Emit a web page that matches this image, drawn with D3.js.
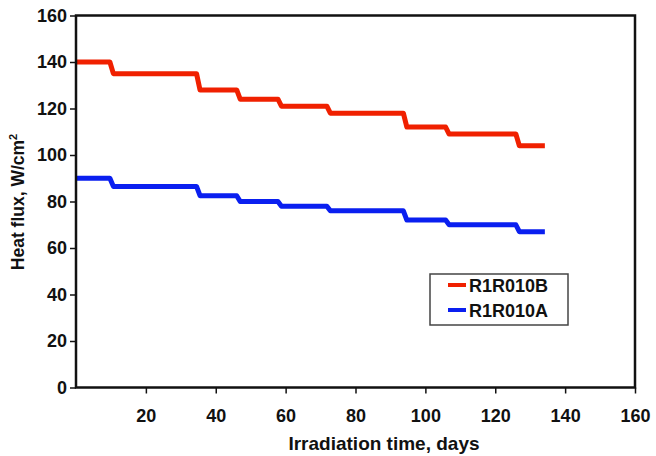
<!DOCTYPE html>
<html>
<head>
<meta charset="utf-8">
<script src="https://cdn.jsdelivr.net/npm/d3@7"></script>
<style>
  body { margin: 0; background: #fff; }
  text { font-family: "Liberation Sans", Arial, sans-serif; font-weight: bold; fill: #111; }
</style>
</head>
<body>
<div id="chart"></div>
<script>
// days where each flat segment starts / ends
var segStart = [0, 10.7, 35.5, 47, 58.8, 72.8, 94.7, 106.8, 126.9];
var segEnd   = [9.7, 34.5, 46, 57.8, 71.8, 93.7, 105.8, 125.9, 134.2];
var fluxB = [140, 135, 128, 124, 121, 118, 112, 109, 104];
var fluxA = [90, 86.5, 82.5, 80, 78, 76, 72, 70, 67];
var seriesNames = ["R1R010B", "R1R010A"];
var seriesColors = ["#f02000", "#0a1ff0"];
var xTicks = [20, 40, 60, 80, 100, 120, 140, 160];
var yTicks = [0, 20, 40, 60, 80, 100, 120, 140, 160];

var width = 656, height = 456;
var margin = {top: 15.5, right: 21, bottom: 68.5, left: 76};

var svg = d3.select("#chart").append("svg")
    .attr("width", width)
    .attr("height", height);

var x = d3.scaleLinear().domain([0, 160]).range([margin.left, width - margin.right]);
var y = d3.scaleLinear().domain([0, 160]).range([height - margin.bottom, margin.top]);

function stepPoints(values) {
    var pts = [];
    values.forEach(function(v, i) {
        pts.push([segStart[i], v]);
        pts.push([segEnd[i], v]);
    });
    return pts;
}

var line = d3.line()
    .x(function(d) { return x(d[0]); })
    .y(function(d) { return y(d[1]); });

[fluxB, fluxA].forEach(function(vals, i) {
    svg.append("path")
        .attr("d", line(stepPoints(vals)))
        .attr("fill", "none")
        .attr("stroke", seriesColors[i])
        .attr("stroke-width", 5)
        .attr("stroke-linejoin", "round");
});

// frame
svg.append("rect")
    .attr("x", x(0))
    .attr("y", y(160))
    .attr("width", x(160) - x(0))
    .attr("height", y(0) - y(160))
    .attr("fill", "none")
    .attr("stroke", "#111")
    .attr("stroke-width", 2.5);

var xAxis = svg.append("g")
    .attr("transform", "translate(0," + y(0) + ")")
    .call(d3.axisBottom(x).tickValues(xTicks).tickSize(6).tickPadding(16));
var yAxis = svg.append("g")
    .attr("transform", "translate(" + x(0) + ",0)")
    .call(d3.axisLeft(y).tickValues(yTicks).tickSize(6).tickPadding(3));

[xAxis, yAxis].forEach(function(g) {
    g.select(".domain").remove();
    g.selectAll(".tick line").attr("stroke", "#111").attr("stroke-width", 1.5);
    g.selectAll(".tick text")
        .style("font-size", "18px")
        .style("font-family", "Liberation Sans, Arial, sans-serif")
        .style("font-weight", "bold")
        .attr("fill", "#111");
});

svg.append("text")
    .attr("x", 384)
    .attr("y", 450)
    .attr("text-anchor", "middle")
    .style("font-size", "19px")
    .text("Irradiation time, days");

var yTitle = svg.append("text")
    .attr("transform", "translate(24,202) rotate(-90)")
    .attr("text-anchor", "middle")
    .style("font-size", "17.5px");
yTitle.append("tspan").text("Heat flux, W/cm");
yTitle.append("tspan").attr("dy", -7).style("font-size", "11px").text("2");

// legend
var legend = svg.append("g").attr("transform", "translate(430,274)");
legend.append("rect")
    .attr("width", 138)
    .attr("height", 51)
    .attr("fill", "#fff")
    .attr("stroke", "#444")
    .attr("stroke-width", 1.5);
seriesNames.forEach(function(name, i) {
    var ly = 11 + i * 25;
    legend.append("line")
        .attr("x1", 18).attr("x2", 36)
        .attr("y1", ly).attr("y2", ly)
        .attr("stroke", seriesColors[i])
        .attr("stroke-width", 4);
    legend.append("text")
        .attr("x", 39)
        .attr("y", ly + 6.5)
        .style("font-size", "18px")
        .text(name);
});
</script>
</body>
</html>
